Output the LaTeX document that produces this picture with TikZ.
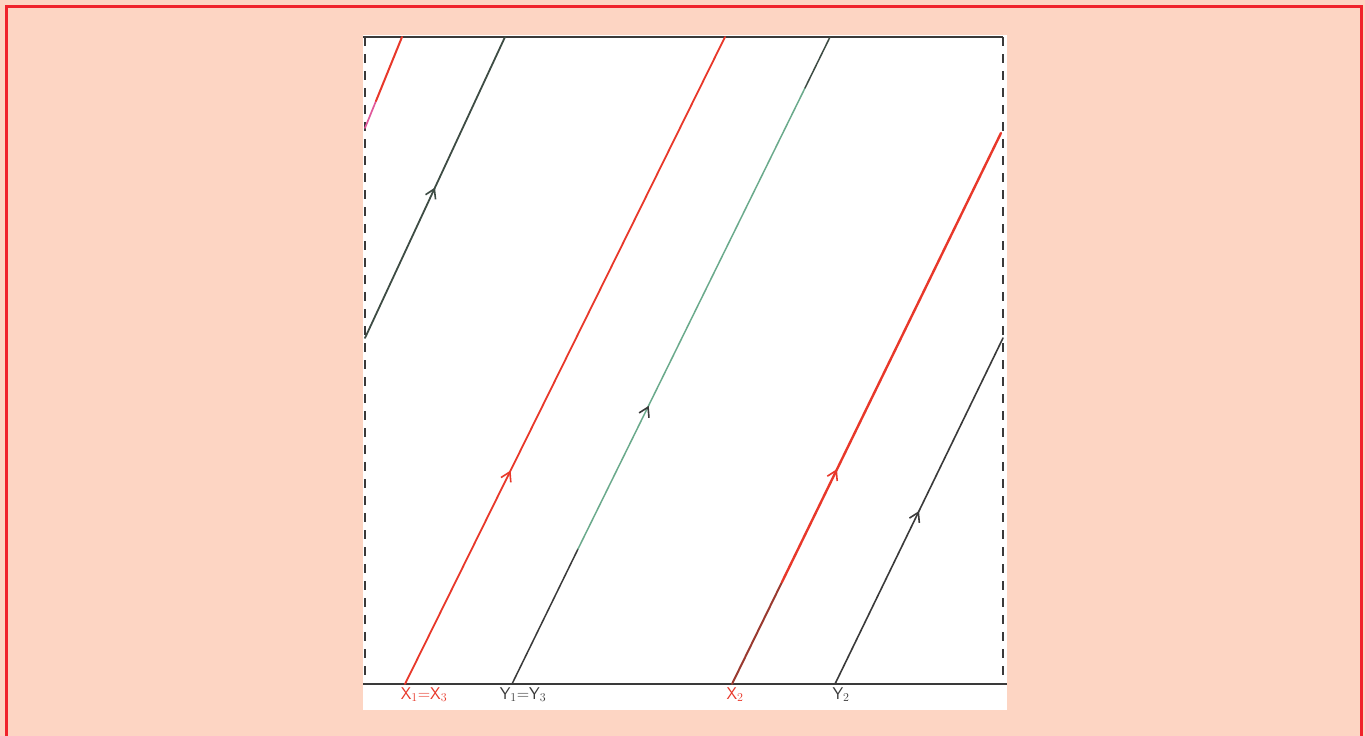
\documentclass[tikz,border=0pt]{standalone}
\usetikzlibrary{arrows.meta,decorations.markings}
\definecolor{bg}{HTML}{FDD5C3}
\definecolor{frame}{HTML}{F0232B}
\definecolor{penred}{HTML}{E8382A}
\definecolor{darkred}{HTML}{9A3A30}
\definecolor{pengray}{HTML}{3A3A3A}
\definecolor{pengreen}{HTML}{6BAA8C}
\definecolor{greengray}{HTML}{3E4C44}
\definecolor{pink}{HTML}{E0589A}
\tikzset{
  pen/.style={line width=1.8pt, line cap=round},
  barb/.style={line width=1.6pt},
  midarrow/.style={postaction={decorate},decoration={markings,
     mark=at position #1 with {\arrow[barb]{Straight Barb[length=9pt,width=11pt]}}}},
  sideline/.style={dashed, dash pattern=on 9pt off 8pt, line width=1.4pt, draw=pengray},
  lbl/.style={font=\sffamily\fontsize{17}{20}\selectfont, inner sep=0pt, anchor=north}
}
\begin{document}
\begin{tikzpicture}[x=1pt,y=-1pt]
\fill[bg] (0,0) rectangle (1365,736);
\useasboundingbox (0,0) rectangle (1365,736);
\draw[frame, line width=3pt] (6,740) -- (6,6) -- (1361,6) -- (1361,740);
\fill[white] (363,35) rectangle (1007,710);
% frame of the square
\coordinate (tl) at (365,37); \coordinate (tr) at (1003,37);
\coordinate (bl) at (363,684); \coordinate (br) at (1007,684);
\coordinate (bll) at (365,684); \coordinate (brr) at (1003,684);
\draw[pengray, line width=1.5pt] (363,37) -- (tr);
\draw[pengray, line width=1.5pt] (bl) -- (br);
\draw[sideline] (tl) -- (bll);
\draw[sideline] (tr) -- (brr);
% line X1=X3
\coordinate (a1) at (405,684); \coordinate (a2) at (725,37);
\draw[pen, penred, midarrow=0.33] (a1) -- (a2);
% line Y1=Y3
\coordinate (b1) at (512,684); \coordinate (bm) at (578,549);
\coordinate (bn) at (805,88); \coordinate (b2) at (830,37);
\draw[pen, pengray, line width=1.5pt] (b1) -- (bm);
\draw[pen, pengreen, line width=1.5pt] (bm) -- (bn);
\draw[pen, greengray, line width=1.5pt] (bn) -- (b2);
\path[postaction={decorate},decoration={markings,
     mark=at position 0.43 with {\arrow[pengray,barb]{Straight Barb[length=9pt,width=11pt]}}}] (b1) -- (b2);
% line X2
\coordinate (c1) at (732,684); \coordinate (cm) at (782,582); \coordinate (c2) at (1001,133);
\draw[pen, darkred, line width=2pt] (c1) -- (cm);
\draw[pen, penred, line width=2.4pt] (cm) -- (c2);
\path[postaction={decorate},decoration={markings,
     mark=at position 0.39 with {\arrow[penred,barb]{Straight Barb[length=9pt,width=11pt]}}}] (c1) -- (c2);
% line Y2
\coordinate (d1) at (835,684); \coordinate (d2) at (1003,338);
\draw[pen, pengray, line width=1.6pt, midarrow=0.5] (d1) -- (d2);
% wrapped black line
\coordinate (e1) at (365,338); \coordinate (e2) at (505,37);
\draw[pen, greengray, line width=1.8pt, midarrow=0.5] (e1) -- (e2);
% wrapped red line
\coordinate (f1) at (365,128); \coordinate (fm) at (376,101); \coordinate (f2) at (402,37);
\draw[pen, pink, line width=1.7pt] (f1) -- (fm);
\draw[pen, penred, line width=2pt] (fm) -- (f2);
% labels
\node[lbl, penred] (lx13) at (424,687) {X$_1$=X$_3$};
\node[lbl, pengray] (ly13) at (523,687) {Y$_1$=Y$_3$};
\node[lbl, penred] (lx2) at (735,687) {X$_2$};
\node[lbl, pengray] (ly2) at (841,687) {Y$_2$};
\end{tikzpicture}
\end{document}
